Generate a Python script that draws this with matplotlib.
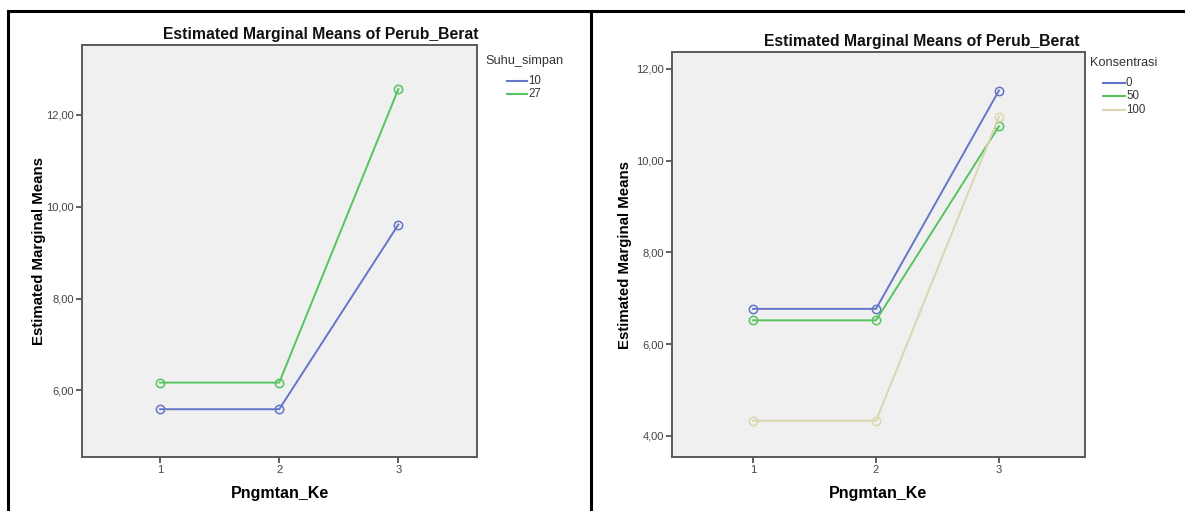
import matplotlib
matplotlib.use("Agg")
import matplotlib.pyplot as plt
from matplotlib.lines import Line2D

plt.rcParams['font.family'] = ['Liberation Sans', 'DejaVu Sans']

# data
pengamatan = [1, 2, 3]

suhu_labels = ['10', '27']
suhu_10 = [5.59, 5.59, 9.61]
suhu_27 = [6.17, 6.17, 12.56]

kons_labels = ['0', '50', '100']
kons_0 = [6.77, 6.77, 11.53]
kons_50 = [6.52, 6.52, 10.75]
kons_100 = [4.33, 4.33, 10.96]

left_yticks = [6, 8, 10, 12]
right_yticks = [4, 6, 8, 10, 12]

BLUE = '#6575c8'
GREEN = '#55c45e'
TAN = '#dcd6ae'

W, H = 1185, 511
fig = plt.figure(figsize=(W / 100, H / 100), dpi=100)
fig.patch.set_facecolor('white')


def px_axes(x0, y0, x1, y1):
    # pixel box (top-left origin) -> figure fraction
    return fig.add_axes([x0 / W, 1 - y1 / H, (x1 - x0) / W, (y1 - y0) / H])


def fx(x):
    return x / W


def fy(y):
    return 1 - y / H


def legend_px(title, labels, colors, title_xy, line_x, rows_y):
    fig.text(fx(title_xy[0]), fy(title_xy[1]), title, fontsize=9.2,
             color='#333333', va='center', ha='left')
    for lab, c, y in zip(labels, colors, rows_y):
        fig.add_artist(Line2D([fx(line_x[0]), fx(line_x[1])], [fy(y), fy(y)],
                              color=c, lw=1.5, transform=fig.transFigure))
        fig.text(fx(line_x[1] + 1), fy(y), lab, fontsize=8.3, color='#333333',
                 va='center', ha='left')


def profile(ax, series, colors, yticks, ylim, xlim, ypad):
    ax.set_facecolor('#f0f0f0')
    for vals, c in zip(series, colors):
        ax.plot(pengamatan, vals, color=c, lw=1.4, marker='o', ms=6,
                mfc='none', mec=c, mew=1.1)
    ax.set_xlim(*xlim)
    ax.set_ylim(*ylim)
    ax.set_xticks(pengamatan)
    ax.set_xticklabels([str(p) for p in pengamatan])
    ax.set_yticks(yticks)
    ax.set_yticklabels([('%.2f' % v).replace('.', ',') for v in yticks])
    ax.tick_params(axis='both', labelsize=8, colors='#444444', length=4,
                   width=1.2, direction='out', pad=2)
    for s in ax.spines.values():
        s.set_color('#5a5a5a')
        s.set_linewidth(1.4)
    # SPSS centres the title over plot + legend, so it sits right of centre
    ax.set_title('Estimated Marginal Means of Perub_Berat', fontsize=11.3,
                 fontweight='bold', color='#111111', pad=4, x=0.604)
    ax.set_xlabel('Pngmtan_Ke', fontsize=11.5, fontweight='bold', labelpad=8)
    ax.set_ylabel('Estimated Marginal Means', fontsize=10.8, fontweight='bold',
                  labelpad=ypad)


ax1 = px_axes(82, 45, 477, 457)
profile(ax1, [suhu_10, suhu_27], [BLUE, GREEN], left_yticks,
        (4.55, 13.52), (0.345, 3.66), 0)
legend_px('Suhu_simpan', suhu_labels, [BLUE, GREEN], (485, 61),
          (507, 527), [81, 94])

ax2 = px_axes(672, 52, 1085, 457)
profile(ax2, [kons_0, kons_50, kons_100], [BLUE, GREEN, TAN],
        right_yticks, (3.54, 12.37), (0.34, 3.70), 3)
legend_px('Konsentrasi', kons_labels, [BLUE, GREEN, TAN], (1090, 63),
          (1103, 1125), [83, 96, 110])

# table borders around the two panels
border = dict(color='black', lw=2.2, transform=fig.transFigure)
fig.add_artist(Line2D([fx(8), 1], [fy(11), fy(11)], **border))
fig.add_artist(Line2D([fx(8), fx(8)], [0, fy(11)], **border))
fig.add_artist(Line2D([fx(591), fx(591)], [0, fy(11)], **border))

fig.savefig('out.png', dpi=100)
